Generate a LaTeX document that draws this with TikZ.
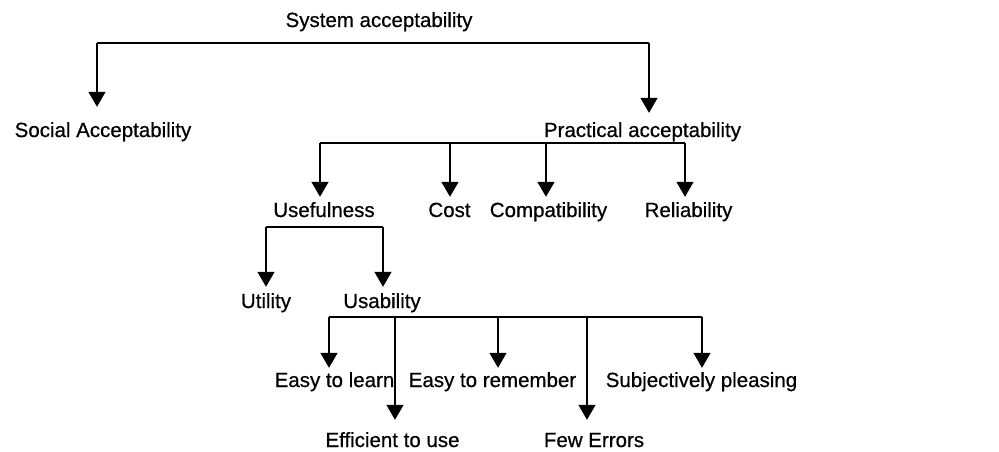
\documentclass[tikz,border=0pt]{standalone}
\usepackage{fontspec}
\setmainfont{Liberation Sans}[BoldFont=Liberation Sans,BoldFeatures={FakeBold=0.6}]
\usetikzlibrary{arrows.meta}
\begin{document}
\begin{tikzpicture}[x=1pt,y=-1pt,
  lbl/.style={anchor=base,inner sep=0pt,text height=15pt,text depth=4pt,font=\fontsize{20.5pt}{24pt}\selectfont\bfseries},
  bar/.style={line width=1.4pt},
  arr/.style={line width=1.4pt,-{Triangle[width=17pt,length=15pt]}}]
\useasboundingbox (0,0) rectangle (999,451);
% nodes
\node[lbl] (sys) at (379,27) {System acceptability};
\node[lbl] (soc) at (103,137) {Social Acceptability};
\node[lbl] (prac) at (642.5,137) {Practical acceptability};
\node[lbl] (usef) at (324,217) {Usefulness};
\node[lbl] (cost) at (449.5,217) {Cost};
\node[lbl] (compat) at (548.5,217) {Compatibility};
\node[lbl] (rel) at (688.5,217) {Reliability};
\node[lbl] (util) at (266,308) {Utility};
\node[lbl] (usab) at (382,308) {Usability};
\node[lbl] (learn) at (334.5,387) {Easy to learn};
\node[lbl] (eff) at (392.5,447) {Efficient to use};
\node[lbl] (rem) at (492.5,387) {Easy to remember};
\node[lbl] (few) at (594,447) {Few Errors};
\node[lbl] (subj) at (701.5,387) {Subjectively pleasing};
% bar 1
\coordinate (b1a) at (97,43);
\coordinate (b1b) at (649,43);
\draw[bar] (b1a) -- (b1b);
\draw[arr,shorten >=15pt] (b1a) -- (b1a |- soc.north);
\draw[arr,shorten >=9pt] (b1b) -- (b1b |- prac.north);
% bar 2
\coordinate (b2a) at (320,143);
\coordinate (b2b) at (450,143);
\coordinate (b2c) at (546,143);
\coordinate (b2d) at (685,143);
\draw[bar] (b2a) -- (b2d);
\draw[arr,shorten >=5pt] (b2a) -- (b2a |- usef.north);
\draw[arr,shorten >=5pt] (b2b) -- (b2b |- cost.north);
\draw[arr,shorten >=5pt] (b2c) -- (b2c |- compat.north);
\draw[arr,shorten >=5pt] (b2d) -- (b2d |- rel.north);
% bar 3
\coordinate (b3a) at (266,227);
\coordinate (b3b) at (383,227);
\draw[bar] (b3a) -- (b3b);
\draw[arr,shorten >=6pt] (b3a) -- (b3a |- util.north);
\draw[arr,shorten >=6pt] (b3b) -- (b3b |- usab.north);
% bar 4
\coordinate (b4a) at (329,317);
\coordinate (b4b) at (395,317);
\coordinate (b4c) at (498,317);
\coordinate (b4d) at (587,317);
\coordinate (b4e) at (702,317);
\draw[bar] (b4a) -- (b4e);
\draw[arr,shorten >=4pt] (b4a) -- (b4a |- learn.north);
\draw[arr,shorten >=12pt] (b4b) -- (b4b |- eff.north);
\draw[arr,shorten >=4pt] (b4c) -- (b4c |- rem.north);
\draw[arr,shorten >=12pt] (b4d) -- (b4d |- few.north);
\draw[arr,shorten >=4pt] (b4e) -- (b4e |- subj.north);
\end{tikzpicture}
\end{document}
